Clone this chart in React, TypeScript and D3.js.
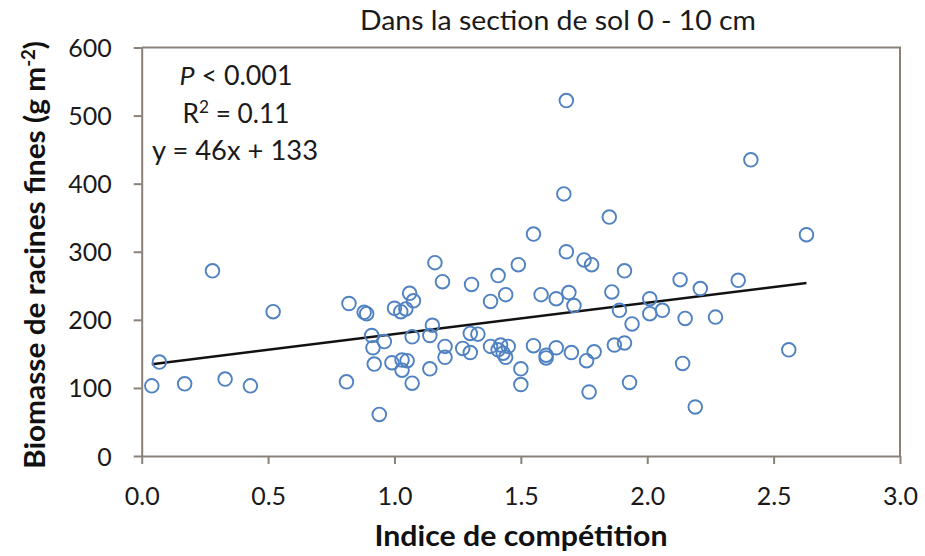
import React, { useEffect, useRef } from "react";
import * as d3 from "d3";

const competitionIndex: number[] = [
  0.04, 0.07, 0.17, 0.28, 0.33, 0.43, 0.52,
  0.81, 0.82, 0.88, 0.89, 0.91, 0.915, 0.92, 0.94, 0.96, 0.99, 1.0, 1.025, 1.03, 1.03, 1.05, 1.045, 1.06, 1.075, 1.07, 1.07,
  1.14, 1.14, 1.15, 1.16, 1.19, 1.2, 1.2, 1.27, 1.3, 1.3, 1.305, 1.33, 1.38, 1.38, 1.41, 1.42, 1.45, 1.41, 1.43, 1.44, 1.44, 1.49, 1.5, 1.5,
  1.55, 1.55, 1.58, 1.6, 1.6, 1.64, 1.64, 1.67, 1.68, 1.68, 1.69, 1.7, 1.71, 1.75, 1.76, 1.77, 1.78, 1.79,
  1.85, 1.86, 1.87, 1.89, 1.91, 1.91, 1.93, 1.94, 2.01, 2.01, 2.06, 2.13, 2.14, 2.15, 2.19, 2.21, 2.27, 2.36, 2.41, 2.56, 2.63,
];
const rootBiomass: number[] = [
  103, 138, 106, 272, 113, 103, 212,
  109, 224, 211, 209, 177, 159, 135, 61, 168, 137, 217, 212, 126, 141, 140, 216, 239, 228, 175, 107,
  128, 177, 192, 284, 256, 161, 145, 158, 180, 152, 252, 179, 227, 161, 265, 163, 161, 156, 151, 145, 237, 281, 128, 105,
  162, 326, 237, 148, 144, 231, 159, 385, 522, 300, 240, 152, 221, 288, 140, 94, 281, 153,
  351, 241, 163, 214, 166, 272, 108, 194, 231, 209, 214, 259, 136, 202, 72, 246, 204, 258, 435, 156, 325,
];
const xTicks: number[] = [0, 0.5, 1, 1.5, 2, 2.5, 3];
const yTicks: number[] = [0, 100, 200, 300, 400, 500, 600];
const slope = 46;
const intercept = 133;
const annotationLines: string[] = ["P < 0.001", "R² = 0.11", "y = 46x + 133"];

export default function App() {
  const ref = useRef<SVGSVGElement | null>(null);

  useEffect(() => {
    const svg = d3.select(ref.current);
    svg.selectAll("*").remove();
    const W = 925, H = 556;
    const left = 141.7, right = 900, top = 47.5, bottom = 456;
    const axisColor = "#8a8178";
    const font = "Lato, 'Open Sans', sans-serif";

    const x = d3.scaleLinear().domain([0, 3]).range([left, right]);
    const y = d3.scaleLinear().domain([0, 600]).range([bottom, top]);

    svg.append("rect").attr("width", W).attr("height", H).attr("fill", "#ffffff");

    // frame (top and right)
    svg.append("path")
      .attr("d", `M${left},${top}H${right}V${bottom}`)
      .attr("fill", "none").attr("stroke", axisColor).attr("stroke-width", 2);

    const xAxis = svg.append("g").attr("transform", `translate(0,${bottom})`)
      .call(d3.axisBottom(x).tickValues(xTicks).tickFormat(d3.format(".1f")).tickSize(8).tickSizeOuter(0));
    const yAxis = svg.append("g").attr("transform", `translate(${left},0)`)
      .call(d3.axisLeft(y).tickValues(yTicks).tickFormat(d3.format("d")).tickSize(8).tickSizeOuter(0));

    [xAxis, yAxis].forEach((g) => {
      g.select(".domain").attr("stroke", axisColor).attr("stroke-width", 2);
      g.selectAll(".tick line").attr("stroke", axisColor).attr("stroke-width", 2);
      g.selectAll(".tick text").attr("fill", "#1a1a1a").attr("font-family", font).attr("font-size", 25);
    });
    xAxis.selectAll(".tick text").attr("y", 31).attr("dy", "0.71em");
    yAxis.selectAll(".tick text").attr("x", -30).attr("dy", "0.36em");

    // regression line
    const xmin = d3.min(competitionIndex) as number;
    const xmax = d3.max(competitionIndex) as number;
    const lineData: [number, number][] = [xmin, xmax].map((v) => [v, slope * v + intercept]);
    svg.append("path")
      .attr("d", d3.line<[number, number]>().x((d) => x(d[0])).y((d) => y(d[1]))(lineData) as string)
      .attr("stroke", "#111").attr("stroke-width", 2.5).attr("fill", "none");

    // points
    svg.append("g").selectAll("circle")
      .data(competitionIndex.map((v, i) => [v, rootBiomass[i]] as [number, number]))
      .join("circle")
      .attr("cx", (d) => x(d[0]))
      .attr("cy", (d) => y(d[1]))
      .attr("r", 6.8)
      .attr("fill", "none")
      .attr("stroke", "#5082c2")
      .attr("stroke-width", 1.9);

    // title
    svg.append("text").attr("x", 558).attr("y", 30).attr("text-anchor", "middle")
      .attr("font-family", font).attr("font-size", 26).attr("fill", "#1a1a1a")
      .attr("textLength", 396).attr("lengthAdjust", "spacingAndGlyphs")
      .text("Dans la section de sol 0 - 10 cm");

    // x title
    svg.append("text").attr("x", 521).attr("y", 546).attr("text-anchor", "middle")
      .attr("font-family", font).attr("font-size", 29).attr("font-weight", "bold").attr("fill", "#111")
      .attr("textLength", 293).attr("lengthAdjust", "spacingAndGlyphs")
      .text("Indice de compétition");

    // y title
    const yt = svg.append("text").attr("transform", "translate(45,255) rotate(-90)")
      .attr("text-anchor", "middle")
      .attr("font-family", font).attr("font-size", 29).attr("font-weight", "bold").attr("fill", "#111")
      .attr("textLength", 428).attr("lengthAdjust", "spacingAndGlyphs");
    yt.append("tspan").text("Biomasse de racines fines (g m");
    yt.append("tspan").attr("font-size", 18).attr("dy", -10).text("-2");
    yt.append("tspan").attr("dy", 10).text(")");

    // annotations
    const ann = svg.append("g").attr("font-family", font).attr("font-size", 26).attr("fill", "#1a1a1a");
    const a1 = ann.append("text").attr("x", 236).attr("y", 85).attr("text-anchor", "middle")
      .attr("textLength", 113).attr("lengthAdjust", "spacingAndGlyphs");
    a1.append("tspan").attr("font-style", "italic").text(annotationLines[0].slice(0, 1));
    a1.append("tspan").text(annotationLines[0].slice(1));
    const a2 = ann.append("text").attr("x", 236).attr("y", 123).attr("text-anchor", "middle")
      .attr("textLength", 107).attr("lengthAdjust", "spacingAndGlyphs");
    a2.append("tspan").text("R");
    a2.append("tspan").attr("font-size", 17).attr("dy", -10).text("2");
    a2.append("tspan").attr("dy", 10).text(annotationLines[1].slice(2));
    ann.append("text").attr("x", 235).attr("y", 160).attr("text-anchor", "middle")
      .attr("textLength", 166).attr("lengthAdjust", "spacingAndGlyphs")
      .text(annotationLines[2]);
  }, []);

  return (
    <svg ref={ref} width={925} height={556}
      style={{ position: "absolute", left: 0, top: 0, display: "block" }} />
  );
}
